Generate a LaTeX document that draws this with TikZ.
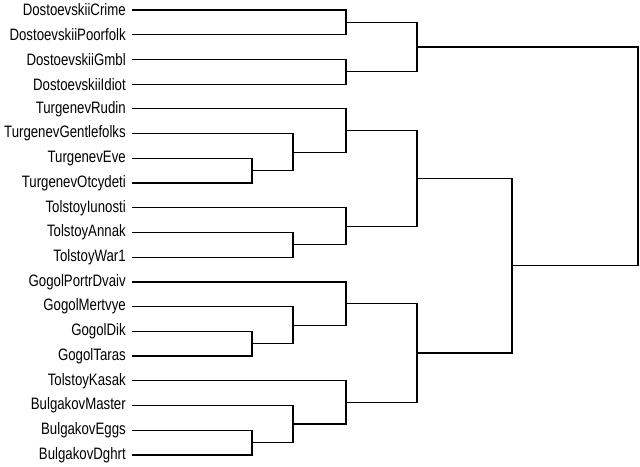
\documentclass[tikz,border=0pt]{standalone}
\usepackage{fontspec}
\newfontfamily\labfont[FakeStretch=0.8]{Liberation Sans}
\begin{document}
\begin{tikzpicture}[x=0.75pt,y=-0.75pt,
  leaflabel/.style={anchor=east,inner sep=0pt,font=\labfont\fontsize{12.4pt}{14pt}\selectfont},
  branch/.style={line width=0.9pt,black}]
\useasboundingbox (0,0) rectangle (640,467);
\foreach \i/\name in {1/DostoevskiiCrime,2/DostoevskiiPoorfolk,3/DostoevskiiGmbl,4/DostoevskiiIdiot,
  5/TurgenevRudin,6/TurgenevGentlefolks,7/TurgenevEve,8/TurgenevOtcydeti,9/TolstoyIunosti,
  10/TolstoyAnnak,11/TolstoyWar1,12/GogolPortrDvaiv,13/GogolMertvye,14/GogolDik,15/GogolTaras,
  16/TolstoyKasak,17/BulgakovMaster,18/BulgakovEggs,19/BulgakovDghrt}{
  \node[leaflabel] (t\i) at (126,{10+(\i-1)*24.72}) {\name};
  \coordinate (l\i) at (132,{10+(\i-1)*24.72});
}
% merge points
\coordinate (m1) at (346,22.36);
\coordinate (m2) at (346,71.8);
\coordinate (m3) at (417,47.08);
\coordinate (m4) at (252,170.68);
\coordinate (m5) at (293,152.14);
\coordinate (m6) at (346,130.51);
\coordinate (m7) at (293,244.84);
\coordinate (m8) at (346,226.3);
\coordinate (m9) at (417,178.4);
\coordinate (m10) at (252,343.72);
\coordinate (m11) at (293,325.18);
\coordinate (m12) at (346,303.55);
\coordinate (m13) at (252,442.6);
\coordinate (m14) at (293,424.06);
\coordinate (m15) at (346,402.43);
\coordinate (m16) at (417,352.99);
\coordinate (m17) at (512,265.7);
\coordinate (m18) at (638,156.39);
% joins: child a, child b, parent
\foreach \a/\b/\m in {l1/l2/m1,l3/l4/m2,m1/m2/m3,l7/l8/m4,l6/m4/m5,l5/m5/m6,
  l10/l11/m7,l9/m7/m8,m6/m8/m9,l14/l15/m10,l13/m10/m11,l12/m11/m12,
  l18/l19/m13,l17/m13/m14,l16/m14/m15,m12/m15/m16,m9/m16/m17,m3/m17/m18}{
  \draw[branch] (\a) -- (\a -| \m) -- (\b -| \m) -- (\b);
}
\end{tikzpicture}
\end{document}
